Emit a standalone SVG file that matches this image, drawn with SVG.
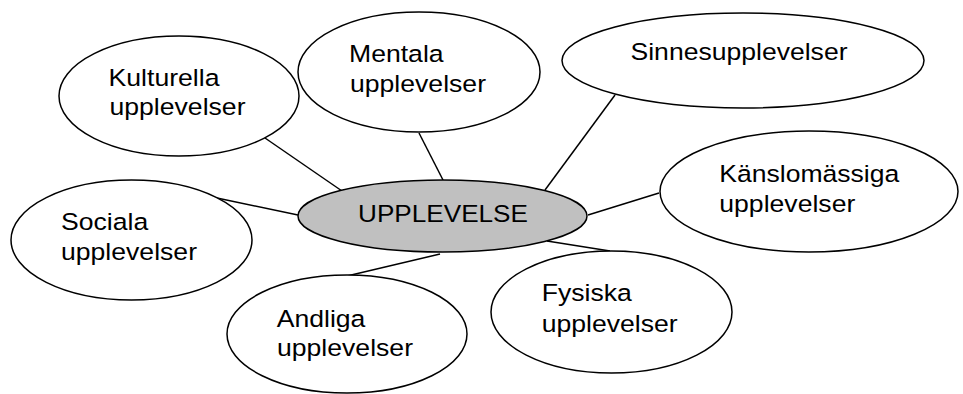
<svg xmlns="http://www.w3.org/2000/svg" width="963" height="394" viewBox="0 0 963 394">
<style>
.n ellipse{fill:#fff;stroke:#000;stroke-width:1.5}
#center ellipse{fill:#c0c0c0}
.c line{stroke:#000;stroke-width:1.5}
text{font-family:"Liberation Sans",Arial,sans-serif;font-size:24.5px;fill:#000}
</style>
<rect width="963" height="394" fill="#fff"/>
<g id="connectors" class="c">
<line x1="265" y1="138" x2="342" y2="191"/>
<line x1="419" y1="133" x2="443" y2="180"/>
<line x1="615" y1="95" x2="545" y2="190"/>
<line x1="659" y1="193" x2="588" y2="215"/>
<line x1="547" y1="241" x2="610" y2="251"/>
<line x1="440" y1="254" x2="347" y2="276"/>
<line x1="217" y1="198" x2="298" y2="215"/>
</g>
<g id="kulturella" class="n">
<ellipse cx="179" cy="96" rx="120" ry="60"/>
<text x="108.5" y="86" textLength="111" lengthAdjust="spacingAndGlyphs">Kulturella</text>
<text x="109.5" y="115" textLength="136" lengthAdjust="spacingAndGlyphs">upplevelser</text>
</g>
<g id="mentala" class="n">
<ellipse cx="419" cy="72" rx="121" ry="60"/>
<text x="349" y="62" textLength="94.6" lengthAdjust="spacingAndGlyphs">Mentala</text>
<text x="350" y="91.5" textLength="136" lengthAdjust="spacingAndGlyphs">upplevelser</text>
</g>
<g id="sinnes" class="n">
<ellipse cx="743" cy="60.5" rx="181" ry="47.5"/>
<text x="630.5" y="60" textLength="217" lengthAdjust="spacingAndGlyphs">Sinnesupplevelser</text>
</g>
<g id="kanslo" class="n">
<ellipse cx="809" cy="191.5" rx="149" ry="60.5"/>
<text x="719.3" y="181.7" textLength="180" lengthAdjust="spacingAndGlyphs">Känslomässiga</text>
<text x="719.3" y="211.7" textLength="136" lengthAdjust="spacingAndGlyphs">upplevelser</text>
</g>
<g id="center" class="n">
<ellipse cx="442.5" cy="216" rx="144.5" ry="36"/>
<text x="358" y="222.3" textLength="170" lengthAdjust="spacingAndGlyphs">UPPLEVELSE</text>
</g>
<g id="sociala" class="n">
<ellipse cx="131.5" cy="240" rx="120.5" ry="60"/>
<text x="61" y="230" textLength="87.2" lengthAdjust="spacingAndGlyphs">Sociala</text>
<text x="61" y="260" textLength="136" lengthAdjust="spacingAndGlyphs">upplevelser</text>
</g>
<g id="andliga" class="n">
<ellipse cx="347" cy="334" rx="120" ry="59"/>
<text x="276.7" y="326.7" textLength="88.7" lengthAdjust="spacingAndGlyphs">Andliga</text>
<text x="277" y="356" textLength="136" lengthAdjust="spacingAndGlyphs">upplevelser</text>
</g>
<g id="fysiska" class="n">
<ellipse cx="611.5" cy="312" rx="120.5" ry="61"/>
<text x="541.7" y="300.7" textLength="90.1" lengthAdjust="spacingAndGlyphs">Fysiska</text>
<text x="541.7" y="331.7" textLength="136" lengthAdjust="spacingAndGlyphs">upplevelser</text>
</g>
</svg>
